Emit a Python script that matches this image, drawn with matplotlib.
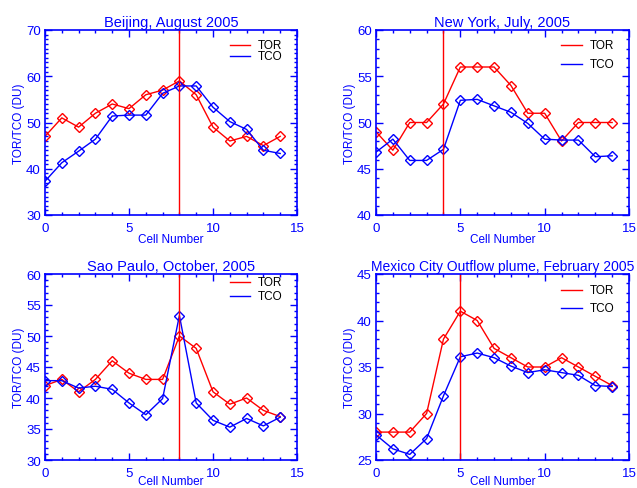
import matplotlib
matplotlib.use("Agg")
import matplotlib.pyplot as plt
from matplotlib.ticker import MultipleLocator

plt.rcParams['font.family'] = ['Liberation Sans', 'DejaVu Sans']

cells = list(range(15))

# Beijing
bj_tor = [47, 51, 49, 52, 54, 53, 56, 57, 59, 56, 49, 46, 47, 45, 47]
bj_tco = [37.3, 41.3, 43.8, 46.4, 51.4, 51.6, 51.6, 56.3, 57.9, 57.9, 53.3, 50.2, 48.5, 44.0, 43.3]
# New York
ny_tor = [49, 47, 50, 50, 52, 56, 56, 56, 54, 51, 51, 48, 50, 50, 50]
ny_tco = [46.8, 48.2, 45.9, 45.9, 47.1, 52.4, 52.5, 51.8, 51.1, 49.9, 48.2, 48.1, 48.1, 46.3, 46.4]
# Sao Paulo
sp_tor = [42, 43, 41, 43, 46, 44, 43, 43, 50, 48, 41, 39, 40, 38, 37]
sp_tco = [42.8, 42.8, 41.6, 41.9, 41.4, 39.2, 37.3, 39.9, 53.3, 39.2, 36.4, 35.3, 36.7, 35.5, 36.9]
# Mexico City
mx_tor = [28, 28, 28, 30, 38, 41, 40, 37, 36, 35, 35, 36, 35, 34, 33]
mx_tco = [27.7, 26.2, 25.6, 27.3, 31.9, 36.1, 36.5, 36.0, 35.1, 34.4, 34.7, 34.4, 34.1, 33.0, 32.9]

titles = ["Beijing, August 2005", "New York, July, 2005",
          "Sao Paulo, October, 2005", "Mexico City Outflow plume, February 2005"]
title_sizes = [10.5, 10.5, 10.5, 10]
tor_all = [bj_tor, ny_tor, sp_tor, mx_tor]
tco_all = [bj_tco, ny_tco, sp_tco, mx_tco]
vlines = [8, 4, 8, 5]
ylims = [(30, 70), (40, 60), (30, 60), (25, 45)]
ysteps = [10, 5, 5, 5]
# legend rows (axes fraction) for TOR and TCO in each panel
leg_y = [(0.919, 0.859), (0.919, 0.816), (0.957, 0.882), (0.914, 0.817)]

BLUE = (0, 0, 1)
RED = (1, 0, 0)

W, H = 637, 489
fig = plt.figure(figsize=(W / 100, H / 100), dpi=100)
# axes boxes in pixels: left, top, right, bottom
boxes = [(45, 31, 297, 216), (376, 31, 629, 216),
         (45, 275, 297, 461), (376, 275, 629, 461)]

for i in range(4):
    l, t, r, b = boxes[i]
    ax = fig.add_axes([l / W, 1 - b / H, (r - l) / W, (b - t) / H])
    ax.plot(cells, tor_all[i], color=RED, lw=1, marker='D', ms=5,
            mfc='none', mec=RED, mew=1)
    ax.plot(cells, tco_all[i], color=BLUE, lw=1, marker='D', ms=5,
            mfc='none', mec=BLUE, mew=1)
    ax.axvline(vlines[i], color=RED, lw=1)
    ax.set_xlim(0, 15)
    ax.set_ylim(*ylims[i])
    ax.xaxis.set_major_locator(MultipleLocator(5))
    ax.xaxis.set_minor_locator(MultipleLocator(1))
    ax.yaxis.set_major_locator(MultipleLocator(ysteps[i]))
    ax.yaxis.set_minor_locator(MultipleLocator(1))
    ax.tick_params(which='both', direction='in', top=True, right=True,
                   colors=BLUE, labelsize=9.5, width=1)
    ax.tick_params(which='major', length=5)
    ax.tick_params(axis='x', which='major', pad=5)
    ax.tick_params(axis='y', which='major', pad=3)
    ax.tick_params(which='minor', length=2.5)
    for s in ax.spines.values():
        s.set_color(BLUE)
        s.set_linewidth(1.2)
    ax.set_title(titles[i], color=BLUE, fontsize=title_sizes[i], pad=3)
    # bottom row sits right at the figure edge, nudge its label up a little
    xpad = -0.5 if i < 2 else -2.5
    ax.set_xlabel("Cell Number", color=BLUE, fontsize=8.5, labelpad=xpad)
    ax.set_ylabel("TOR/TCO (DU)", color=BLUE, fontsize=8.5, labelpad=0.5)

    # legend: short line plus black label
    for name, col, yy in zip(["TOR", "TCO"], [RED, BLUE], leg_y[i]):
        ax.plot([0.733, 0.814], [yy, yy], color=col, lw=1,
                transform=ax.transAxes)
        ax.text(0.845, yy, name, color='black', fontsize=8.5,
                va='center', ha='left', transform=ax.transAxes)

fig.savefig("out.png", dpi=100)
